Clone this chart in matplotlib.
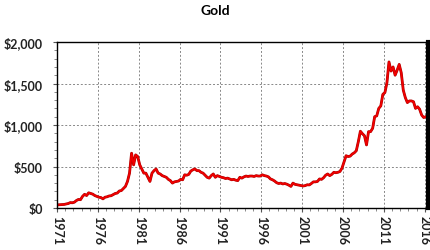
import matplotlib
matplotlib.use("Agg")
import matplotlib.pyplot as plt
from matplotlib.ticker import MultipleLocator, FuncFormatter
import numpy as np

years = list(range(1971, 2017))
# quarterly average gold price (USD/oz), one row per year
quarterly_prices = [
    [38, 40, 42, 43], [48, 54, 65, 63], [70, 90, 103, 100], [140, 165, 150, 183],
    [175, 167, 150, 140], [130, 126, 110, 130], [135, 145, 148, 162], [175, 180, 205, 210],
    [235, 260, 320, 420], [660, 520, 640, 620], [520, 470, 420, 420], [370, 320, 420, 450],
    [470, 420, 410, 390], [380, 370, 345, 330], [300, 315, 320, 325], [345, 340, 400, 395],
    [405, 445, 460, 470], [450, 450, 430, 420], [395, 370, 360, 390], [410, 370, 390, 380],
    [370, 365, 355, 360], [350, 340, 345, 335], [330, 370, 360, 375], [385, 380, 385, 385],
    [380, 390, 385, 385], [400, 390, 385, 375], [350, 340, 325, 305], [295, 300, 290, 295],
    [287, 275, 260, 300], [285, 280, 275, 270], [265, 270, 280, 278], [295, 315, 315, 320],
    [350, 345, 365, 395], [410, 390, 405, 430], [425, 430, 440, 480], [555, 630, 620, 625],
    [650, 665, 690, 800], [925, 895, 870, 760], [920, 920, 960, 1100], [1110, 1200, 1230, 1370],
    [1390, 1510, 1760, 1650], [1700, 1600, 1660, 1730], [1630, 1420, 1330, 1270],
    [1290, 1290, 1280, 1200], [1220, 1190, 1120, 1090], [1100],
]
x_ticks = list(range(1971, 2017, 5))
y_ticks = [0, 500, 1000, 1500, 2000]

xs, ys = [], []
for yr, qs in zip(years, quarterly_prices):
    for i, v in enumerate(qs):
        xs.append(yr + i * 0.25 + 0.125)
        ys.append(v)

plt.rcParams['font.family'] = ['Lato', 'DejaVu Sans']

fig = plt.figure(figsize=(4.30, 2.51), dpi=100)
ax = fig.add_axes([57/430, 1 - 209/251, (428 - 57)/430, (209 - 43)/251])

ax.plot(xs, ys, color='#a80000', lw=2.0, solid_joinstyle='round')
ax.plot(xs, ys, color='#f00000', lw=1.3, solid_joinstyle='round')

ax.set_xlim(1971, 2016.4)
ax.set_ylim(0, 2000)
ax.set_xticks(x_ticks)
ax.set_xticklabels([str(t) for t in x_ticks], rotation=-90, fontsize=9, fontweight='bold', color='#222222')
ax.set_yticks(y_ticks)
ax.yaxis.set_major_formatter(FuncFormatter(lambda v, p: f"${int(v):,}"))
for lbl in ax.get_yticklabels():
    lbl.set_fontweight('bold')
    lbl.set_fontsize(9)
    lbl.set_color('#222222')
ax.xaxis.set_minor_locator(MultipleLocator(1))
ax.yaxis.set_minor_locator(MultipleLocator(100))
ax.tick_params(axis='both', which='major', length=3, width=0.8, color='#555555', pad=2)
ax.tick_params(axis='both', which='minor', length=2, width=0.6, color='#777777')
ax.tick_params(axis='y', pad=7)

ax.grid(True, which='major', color='#888888', linestyle=(0, (2, 2)), lw=0.7)
for s in ['top', 'left', 'bottom']:
    ax.spines[s].set_color('black')
    ax.spines[s].set_linewidth(1.0)
ax.spines['right'].set_color('black')
ax.spines['right'].set_linewidth(3)

fig.text(0.5, 1 - 11/251, 'Gold', ha='center', va='center', fontsize=10, fontweight='bold')

fig.savefig('out.png', dpi=100)
